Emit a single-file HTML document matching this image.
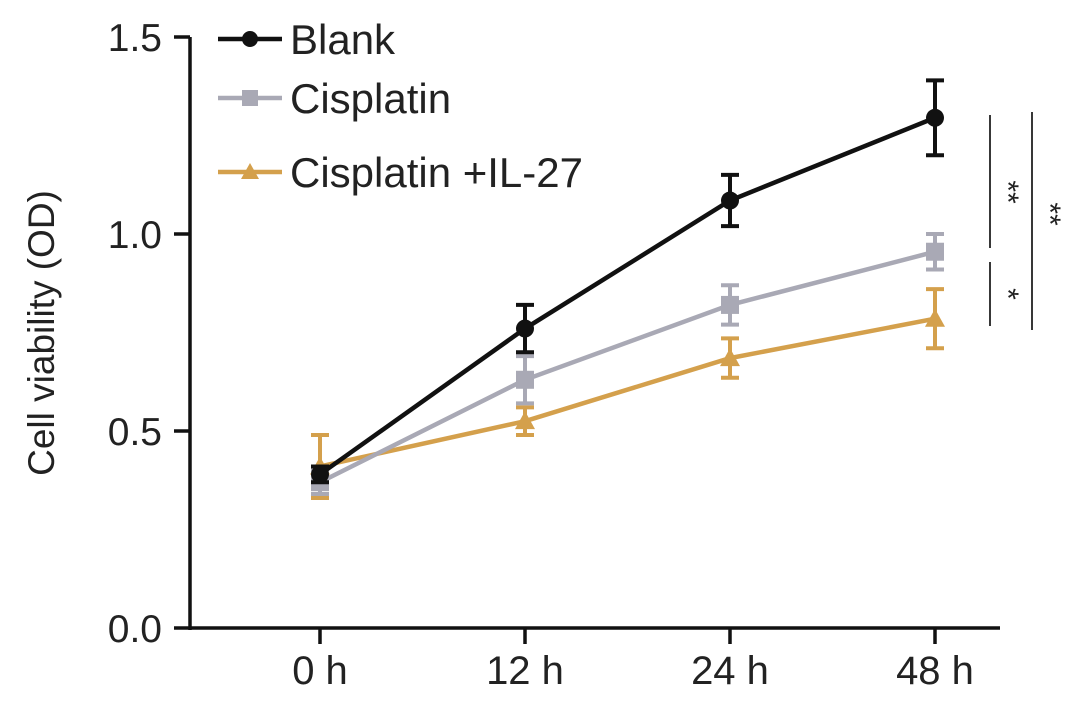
<!DOCTYPE html>
<html><head><meta charset="utf-8"><style>
body{margin:0;background:#fff;}
svg{display:block;font-family:"Liberation Sans",Arial,sans-serif;}
</style></head><body>
<svg id="chart" width="1087" height="703" viewBox="0 0 1087 703">
<g id="axes"></g><g id="series"></g>
<g>
 <g>
  <line x1="218" y1="39" x2="282" y2="39" stroke="#111" stroke-width="4.5"/><circle cx="250" cy="39" r="8" fill="#111"/>
  <text x="290" y="54" font-size="42" fill="#222">Blank</text></g>
 <g>
  <line x1="218" y1="98" x2="282" y2="98" stroke="#a9a9b5" stroke-width="4.5"/><rect x="242" y="90" width="16" height="16" fill="#a9a9b5"/>
  <text x="290" y="113" font-size="42" fill="#222">Cisplatin</text></g>
 <g>
  <line x1="218" y1="172" x2="282" y2="172" stroke="#d4a04c" stroke-width="4.5"/><polygon points="250,163 259,179 241,179" fill="#d4a04c"/>
  <text x="290" y="187" font-size="42" fill="#222">Cisplatin +IL-27</text></g>
</g>
<g stroke="#222" stroke-width="1.8">
 <line x1="990" y1="115" x2="990" y2="248"/><line x1="990" y1="262" x2="990" y2="326"/><line x1="1032" y1="112" x2="1032" y2="330"/>
</g>
<text transform="translate(998,192) rotate(90)" font-size="30" text-anchor="middle" fill="#222">**</text>
<text transform="translate(998,294) rotate(90)" font-size="30" text-anchor="middle" fill="#222">*</text>
<text transform="translate(1040,214) rotate(90)" font-size="30" text-anchor="middle" fill="#222">**</text>
<text transform="translate(54,333) rotate(-90)" font-size="37" text-anchor="middle" fill="#222">Cell viability (OD)</text>
</svg>
<script>
const categories=["0 h","12 h","24 h","48 h"];
const yTicks=[0.0,0.5,1.0,1.5];
const blank=[0.39,0.76,1.085,1.295];
const blankErr=[0.02,0.06,0.065,0.095];
const cis=[0.37,0.63,0.82,0.955];
const cisErr=[0.03,0.06,0.05,0.045];
const il27=[0.41,0.525,0.685,0.785];
const il27Err=[0.08,0.035,0.05,0.075];
const NS="http://www.w3.org/2000/svg";
const y=v=>628-v*394;
const x=i=>320+i*205;
function mk(t,a,p){const e=document.createElementNS(NS,t);for(const k in a)e.setAttribute(k,a[k]);p.appendChild(e);return e;}
const ax=document.getElementById('axes');
const yl=mk('line',{x1:190,y1:y(1.5),x2:190,y2:630,stroke:'#111','stroke-width':3.5},ax);


const xl=mk('line',{x1:189,y1:628,x2:1000,y2:628,stroke:'#111','stroke-width':3.5},ax);


yTicks.forEach(v=>{
 mk('line',{x1:174,y1:y(v),x2:190,y2:y(v),stroke:'#111','stroke-width':3.5},ax);
 const t=mk('text',{x:162,y:y(v)+14,'font-size':39,'text-anchor':'end',fill:'#222'},ax);
 t.textContent=v.toFixed(1);
 
 
});
categories.forEach((c,i)=>{
 mk('line',{x1:x(i),y1:628,x2:x(i),y2:644,stroke:'#111','stroke-width':3.5},ax);
 const t=mk('text',{x:x(i),y:684,'font-size':40,'text-anchor':'middle',fill:'#222'},ax);
 t.textContent=c;
 
 
});
const sg=document.getElementById('series');
function series(vals,errs,color,shape,name){
 const g=mk('g',{},sg);
 
 
 mk('polyline',{points:vals.map((v,i)=>x(i)+','+y(v)).join(' '),fill:'none',stroke:color,'stroke-width':4.5},g);
 vals.forEach((v,i)=>{
  const e=errs[i];
  mk('line',{x1:x(i),y1:y(v+e),x2:x(i),y2:y(v-e),stroke:color,'stroke-width':4},g);
  mk('line',{x1:x(i)-9,y1:y(v+e),x2:x(i)+9,y2:y(v+e),stroke:color,'stroke-width':4},g);
  mk('line',{x1:x(i)-9,y1:y(v-e),x2:x(i)+9,y2:y(v-e),stroke:color,'stroke-width':4},g);
  let m;
  if(shape==='c')m=mk('circle',{cx:x(i),cy:y(v),r:9,fill:color},g);
  else if(shape==='s')m=mk('rect',{x:x(i)-9,y:y(v)-9,width:18,height:18,fill:color},g);
  else m=mk('polygon',{points:`${x(i)},${y(v)-10} ${x(i)+10},${y(v)+8} ${x(i)-10},${y(v)+8}`,fill:color},g);
  
  
 });
}
series(il27,il27Err,'#d4a04c','t','series-cisplatin-il27');
series(cis,cisErr,'#a9a9b5','s','series-cisplatin');
series(blank,blankErr,'#111','c','series-blank');
</script>
</body></html>
